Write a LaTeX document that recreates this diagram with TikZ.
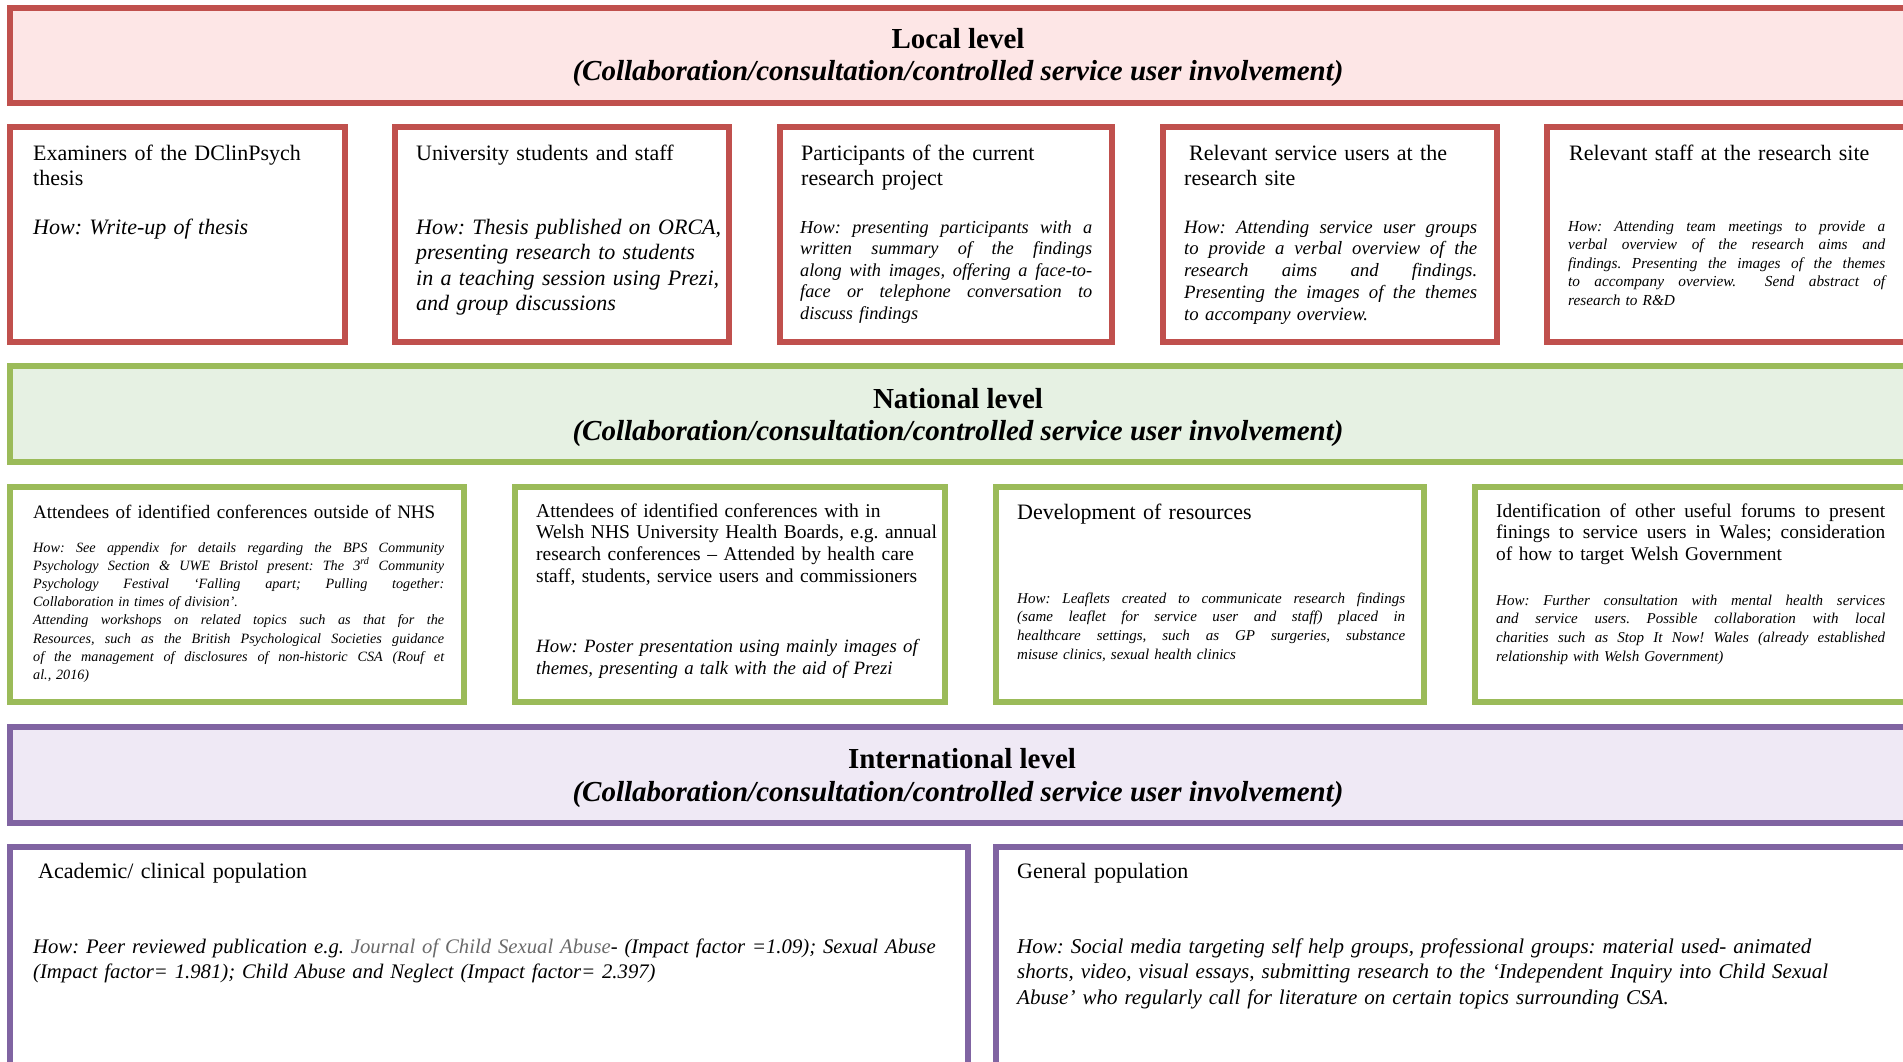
\documentclass[tikz,border=0pt]{standalone}
\usepackage{fontspec}
\setmainfont{Liberation Serif}
\definecolor{lred}{HTML}{C0504D}
\definecolor{lredfill}{HTML}{FDE6E6}
\definecolor{lgreen}{HTML}{9BBB59}
\definecolor{lgreenfill}{HTML}{E6F1E3}
\definecolor{lpurple}{HTML}{8064A2}
\definecolor{lpurplefill}{HTML}{EFE9F5}
\definecolor{journalgray}{HTML}{6A6A6A}
% one line stretched to the full column width (justified line)
\newcommand\jl[1]{\makebox[\linewidth][s]{\spaceskip=0pt\relax\xspaceskip=0pt\relax#1}}
\frenchspacing
\tikzset{
  frame/.style={line width=5.5pt},
  hdr/.style={anchor=base, inner sep=0pt, font={\fontsize{29}{32}\selectfont\bfseries}},
  lbl/.style={anchor=base west, inner sep=0pt, align=left, text width=#1},
  big/.style={font={\fontsize{22}{25.5}\selectfont}},
  bigit/.style={font={\fontsize{22}{25.5}\selectfont\itshape}},
}
\begin{document}
\begin{tikzpicture}[x=1pt,y=-1pt]
\useasboundingbox (0,0) rectangle (1903,1061);
\clip (0,0) rectangle (1903,1061);

% ---------- local level ----------
\draw[frame, draw=lred, fill=lredfill] (10,8) rectangle (2000,103);
\node[hdr] (loc1) at (958,48) {Local level};
\node[hdr] (loc2) at (958,80) {\itshape (Collaboration/consultation/controlled service user involvement)};

\draw[frame, draw=lred] (10,127) rectangle (345,342);
\draw[frame, draw=lred] (395,127) rectangle (729,342);
\draw[frame, draw=lred] (780,127) rectangle (1112,342);
\draw[frame, draw=lred] (1163,127) rectangle (1497,342);
\draw[frame, draw=lred] (1547,127) rectangle (2000,342);

\node[lbl=300pt, big] (b1h) at (33,160) {Examiners of the DClinPsych\\thesis};
\node[lbl=300pt, bigit] (b1w) at (33,234) {How: Write-up of thesis};

\node[lbl=300pt, big] (b2h) at (416,160) {University students and staff};
\node[lbl=340pt, bigit] (b2w) at (416,234) {How: Thesis published on ORCA,\\presenting research to students\\in a teaching session using Prezi,\\and group discussions};

\node[lbl=300pt, big] (b3h) at (801,160) {Participants of the current\\research project};
\node[lbl=292pt, font={\fontsize{18.3}{21.5}\selectfont\itshape}] (b3w) at (800,233)
  {\jl{How: presenting participants with a}\\\jl{written summary of the findings}\\\jl{along with images, offering a face-to-}\\\jl{face or telephone conversation to}\\discuss findings};

\node[lbl=300pt, big] (b4h) at (1184,160) {\hspace*{5pt}Relevant service users at the\\research site};
\node[lbl=293pt, font={\fontsize{18.8}{21.8}\selectfont\itshape}] (b4w) at (1184,233)
  {\jl{How: Attending service user groups}\\\jl{to provide a verbal overview of the}\\\jl{research aims and findings.}\\\jl{Presenting the images of the themes}\\to accompany overview.};

\node[lbl=330pt, big] (b5h) at (1569,160) {Relevant staff at the research site};
\node[lbl=317pt, font={\fontsize{15.3}{18.5}\selectfont\itshape}] (b5w) at (1568,231)
  {\jl{How: Attending team meetings to provide a}\\\jl{verbal overview of the research aims and}\\\jl{findings. Presenting the images of the themes}\\\jl{to accompany overview. \ Send abstract of}\\research to R\&D};

% ---------- national level ----------
\draw[frame, draw=lgreen, fill=lgreenfill] (10,366) rectangle (2000,462);
\node[hdr] (nat1) at (958,408) {National level};
\node[hdr] (nat2) at (958,440) {\itshape (Collaboration/consultation/controlled service user involvement)};

\draw[frame, draw=lgreen] (10,487) rectangle (464,702);
\draw[frame, draw=lgreen] (515,487) rectangle (945,702);
\draw[frame, draw=lgreen] (996,487) rectangle (1424,702);
\draw[frame, draw=lgreen] (1475,487) rectangle (2000,702);

\node[lbl=420pt, font={\fontsize{19}{22}\selectfont}] (c1h) at (33,518) {Attendees of identified conferences outside of NHS};
\node[lbl=411pt, font={\fontsize{14.2}{18.2}\selectfont\itshape}] (c1w) at (33,552)
  {\jl{How: See appendix for details regarding the BPS Community}\\
   \jl{Psychology Section \& UWE Bristol present: The 3\textsuperscript{rd} Community}\\
   \jl{Psychology Festival ‘Falling apart; Pulling together:}\\
   Collaboration in times of division’.\\
   \jl{Attending workshops on related topics such as that for the}\\
   \jl{Resources, such as the British Psychological Societies guidance}\\
   \jl{of the management of disclosures of non-historic CSA (Rouf et}\\
   al., 2016)};

\node[lbl=410pt, font={\fontsize{19.5}{21.8}\selectfont}] (c2h) at (536,517)
  {Attendees of identified conferences with in\\Welsh NHS University Health Boards, e.g. annual\\research conferences – Attended by health care\\staff, students, service users and commissioners};
\node[lbl=410pt, font={\fontsize{18.8}{22}\selectfont\itshape}] (c2w) at (536,652)
  {How: Poster presentation using mainly images of\\themes, presenting a talk with the aid of Prezi};

\node[lbl=400pt, big] (c3h) at (1017,519) {Development of resources};
\node[lbl=388pt, font={\fontsize{15}{18.7}\selectfont\itshape}] (c3w) at (1017,603)
  {\jl{How: Leaflets created to communicate research findings}\\
   \jl{(same leaflet for service user and staff) placed in}\\
   \jl{healthcare settings, such as GP surgeries, substance}\\
   misuse clinics, sexual health clinics};

\node[lbl=389pt, font={\fontsize{19.4}{21.6}\selectfont}] (c4h) at (1496,517)
  {\jl{Identification of other useful forums to present}\\\jl{finings to service users in Wales; consideration}\\of how to target Welsh Government};
\node[lbl=389pt, font={\fontsize{15}{18.7}\selectfont\itshape}] (c4w) at (1496,605)
  {\jl{How: Further consultation with mental health services}\\
   \jl{and service users. Possible collaboration with local}\\
   \jl{charities such as Stop It Now! Wales (already established}\\
   relationship with Welsh Government)};

% ---------- international level ----------
\draw[frame, draw=lpurple, fill=lpurplefill] (10,727) rectangle (2000,823);
\node[hdr] (int1) at (962,768) {International level};
\node[hdr] (int2) at (958,801) {\itshape (Collaboration/consultation/controlled service user involvement)};

\draw[frame, draw=lpurple] (10,847) rectangle (968,1100);
\draw[frame, draw=lpurple] (996,847) rectangle (2000,1100);

\node[lbl=900pt, big] (d1h) at (38,878) {Academic/ clinical population};
\node[lbl=930pt, font={\fontsize{20.7}{25.5}\selectfont\itshape}] (d1w) at (33,953)
  {How: Peer reviewed publication e.g. \textcolor{journalgray}{Journal of Child Sexual Abuse}- (Impact factor =1.09); Sexual Abuse\\(Impact factor= 1.981); Child Abuse and Neglect (Impact factor= 2.397)};

\node[lbl=880pt, big] (d2h) at (1017,878) {General population};
\node[lbl=880pt, font={\fontsize{21}{25.5}\selectfont\itshape}] (d2w) at (1017,953)
  {How: Social media targeting self help groups, professional groups: material used- animated\\shorts, video, visual essays, submitting research to the ‘Independent Inquiry into Child Sexual\\Abuse’ who regularly call for literature on certain topics surrounding CSA.};
\end{tikzpicture}
\end{document}
